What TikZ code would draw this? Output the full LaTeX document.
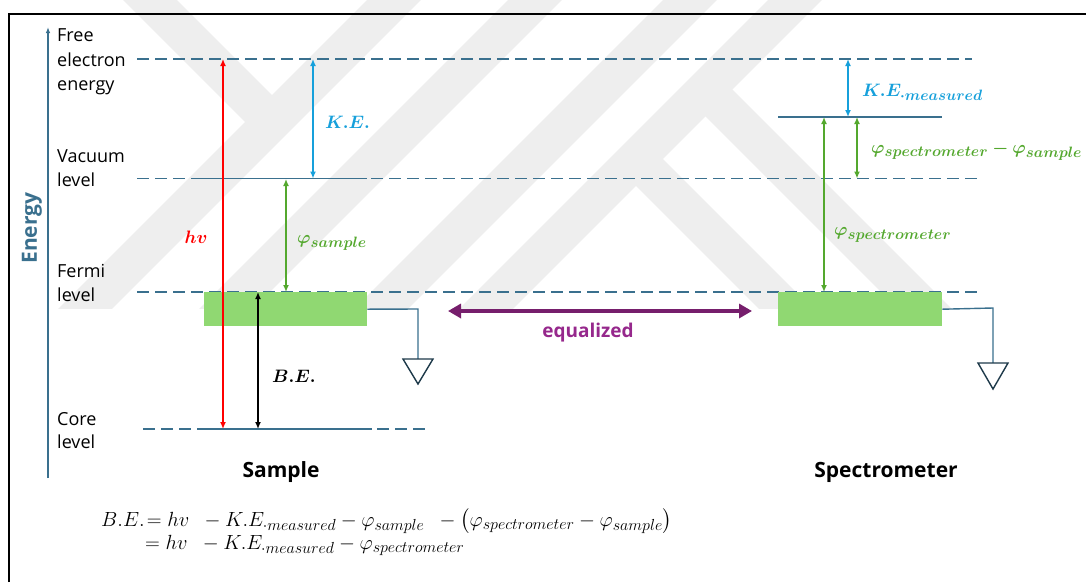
\RequirePackage{fix-cm}
\documentclass[tikz,border=0pt]{standalone}
\usepackage{amsmath}
\usepackage{bm}
\usepackage[no-math]{fontspec}
\setmainfont{Open Sans}
\usetikzlibrary{arrows.meta}
\DeclareMathSizes{18}{18}{15}{11}
\DeclareMathSizes{20.5}{20.5}{16}{12}
\definecolor{steel}{RGB}{58,112,142}
\definecolor{keblue}{RGB}{22,160,219}
\definecolor{wfgreen}{RGB}{84,168,46}
\definecolor{boxgreen}{RGB}{144,216,114}
\definecolor{eqpurple}{RGB}{118,30,108}
\definecolor{eqtext}{RGB}{150,40,140}
\definecolor{wmgray}{RGB}{238,238,238}
\definecolor{gnd}{RGB}{30,58,74}
\tikzset{
  lbl/.style={font=\fontsize{18}{21}\selectfont, inner sep=0pt, anchor=base west},
  mlbl/.style={font=\fontsize{18}{21}\selectfont, inner sep=0pt, anchor=west},
  eqn/.style={font=\fontsize{20.5}{23}\selectfont, inner sep=0pt, anchor=west},
  head/.style={font=\fontsize{21}{24}\selectfont\bfseries, inner sep=0pt, anchor=base},
  dashlevel/.style={steel, line width=1.6pt, dash pattern=on 12pt off 6pt},
  solidlevel/.style={steel, line width=1.6pt},
  arr/.style={line width=1.8pt, {Latex[length=7pt,width=6pt]}-{Latex[length=7pt,width=6pt]}},
  gbox/.style={fill=boxgreen, draw=none, inner sep=0pt, anchor=north west},
  wire/.style={steel, line width=1.4pt},
  ground/.style={gnd, line width=1.4pt, fill=white},
  wmband/.style={wmgray, line width=38pt},
}
\begin{document}
\begin{tikzpicture}[x=1pt,y=-1pt]
\useasboundingbox (0,0) rectangle (1086,582);
\fill[white] (0,0) rectangle (1086,582);
% watermark
\begin{scope}
\clip (0,0) rectangle (1086,308);
\draw[wmband] (414,-20) -- (54,340);
\draw[wmband] (130,-20) -- (272,122);
\draw[wmband] (555,-20) -- (195,340);
\draw[wmband] (710,-20) -- (350,340);
\draw[wmband] (815,-20) -- (455,340);
\draw[wmband] (705.5,89.5) -- (956,340);
\draw[wmband] (636,159) -- (817,340);
\end{scope}
% frame
\draw[black, line width=2pt] (9,582) -- (9,14) -- (1086,14);
% energy axis
\coordinate (axb) at (48,478);
\coordinate (axt) at (48,27);
\draw[steel, line width=1.5pt, -{Latex[length=6pt,width=4.5pt]}] (axb) -- (axt);
\node[rotate=90, text=steel, font=\fontsize{21}{24}\selectfont\bfseries, inner sep=0pt] (energy) at (32,228) {Energy};
% level labels
\node[lbl] (l1) at (57,41) {Free};
\node[lbl] (l2) at (57,66) {electron};
\node[lbl] (l3) at (57,90) {energy};
\node[lbl] (l4) at (57,162) {Vacuum};
\node[lbl] (l5) at (57,186) {level};
\node[lbl] (l6) at (57,277) {Fermi};
\node[lbl] (l7) at (57,301) {level};
\node[lbl] (l8) at (57,425) {Core};
\node[lbl] (l9) at (57,448) {level};
% level coordinates
\coordinate (feL) at (137,59);   \coordinate (feR) at (972,59);
\coordinate (vaL) at (137,178.5); \coordinate (vaR) at (977,178.5);
\coordinate (fmL) at (137,292);  \coordinate (fmR) at (977,292);
\coordinate (coL) at (143,429);  \coordinate (coR) at (425,429);
\draw[dashlevel] (feL) -- (feR);
\draw[dashlevel] (vaL) -- (vaR);
\draw[dashlevel] (fmL) -- (fmR);
\draw[dashlevel] (coL) -- (coR);
\coordinate (svA) at (203,178.5); \coordinate (svB) at (367,178.5);
\draw[solidlevel] (svA) -- (svB);
\coordinate (scA) at (197,429); \coordinate (scB) at (372,429);
\draw[solidlevel] (scA) -- (scB);
\coordinate (pvA) at (778,117); \coordinate (pvB) at (942,117);
\draw[solidlevel] (pvA) -- (pvB);
% boxes
\node[gbox, minimum width=163pt, minimum height=34pt] (sbox) at (204,292) {};
\node[gbox, minimum width=164pt, minimum height=34pt] (pbox) at (778,292) {};
% grounds
\coordinate (sw1) at (418,309); \coordinate (sw2) at (418,359);
\draw[wire] (sbox.east) -- (sw1) -- (sw2);
\draw[ground] (403,359) -- (433,359) -- (418,384) -- cycle;
\coordinate (pw1) at (993,308); \coordinate (pw2) at (993,363);
\draw[wire] (pbox.east) -- (pw1) -- (pw2);
\draw[ground] (978,363) -- (1008,363) -- (993,389) -- cycle;
% sample arrows
\coordinate (hvT) at (223,59); \coordinate (hvB) at (223,429);
\draw[arr, red] (hvT) -- (hvB);
\coordinate (keT) at (313,59); \coordinate (keB) at (313,178.5);
\draw[arr, keblue] (keT) -- (keB);
\coordinate (wsT) at (286,179); \coordinate (wsB) at (286,292);
\draw[arr, wfgreen] (wsT) -- (wsB);
\coordinate (beT) at (258,292); \coordinate (beB) at (258,429);
\draw[arr, black] (beT) -- (beB);
% spectrometer arrows
\coordinate (kmT) at (848,59); \coordinate (kmB) at (848,117);
\draw[arr, keblue] (kmT) -- (kmB);
\coordinate (dfT) at (857,117); \coordinate (dfB) at (857,178.5);
\draw[arr, wfgreen] (dfT) -- (dfB);
\coordinate (wpT) at (824,117); \coordinate (wpB) at (824,292);
\draw[arr, wfgreen] (wpT) -- (wpB);
% arrow labels
\node[mlbl, text=red, anchor=center] (hv) at (196,237) {$\bm{hv}$};
\node[mlbl, text=keblue] (ke) at (325,122) {$\bm{K.E.}$};
\node[mlbl, text=wfgreen] (ws) at (297,243) {$\bm{\varphi_{sample}}$};
\node[mlbl, text=black] (be) at (272,376) {$\bm{B.E.}$};
\node[mlbl, text=keblue] (km) at (862,92) {$\bm{K.E_{\cdot measured}}$};
\node[mlbl, text=wfgreen] (df) at (871,151) {$\bm{\varphi_{spectrometer}-\varphi_{sample}}$};
\node[mlbl, text=wfgreen] (wp) at (834,235) {$\bm{\varphi_{spectrometer}}$};
% equalized
\coordinate (eqL) at (448,311); \coordinate (eqR) at (752,311);
\draw[eqpurple, line width=4pt, {Triangle[length=13pt,width=14pt]}-{Triangle[length=13pt,width=14pt]}] (eqL) -- (eqR);
\node[text=eqtext, font=\fontsize{19}{22}\selectfont\bfseries, inner sep=0pt] (eqlbl) at (588,333) {equalized};
% headings
\node[head] (sample) at (281,477) {Sample};
\node[head] (spectro) at (886,477) {Spectrometer};
% equation
\node[eqn] (eq1) at (101,521) {$B.E.\!= hv\ \ - K.E_{\cdot measured} - \varphi_{sample}\ \ - \left(\varphi_{spectrometer} - \varphi_{sample}\right)$};
\node[eqn] (eq2) at (145,545) {$= hv\ \ - K.E_{\cdot measured} - \varphi_{spectrometer}$};
\end{tikzpicture}
\end{document}
